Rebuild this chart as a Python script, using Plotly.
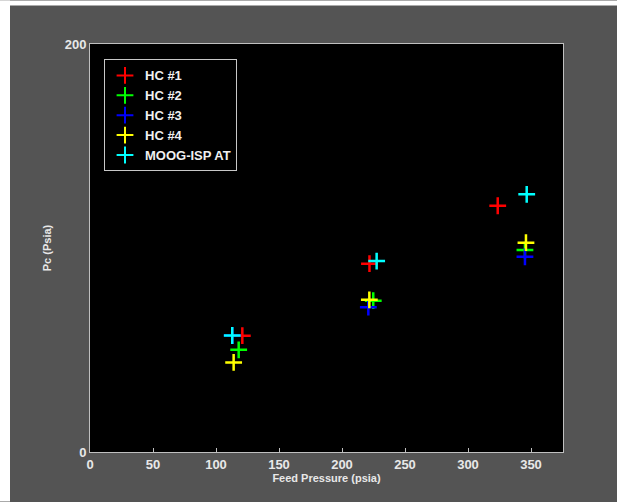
import plotly.graph_objects as go

# Data (Feed Pressure psia, Pc psia)
hc1_x = [120.9, 221.8, 323.6]
hc1_y = [57.0, 92.3, 120.7]
hc2_x = [118.0, 224.8, 345.2]
hc2_y = [50.1, 74.2, 99.0]
hc3_x = [112.9, 220.9, 345.2]
hc3_y = [57.1, 71.0, 95.7]
hc4_x = [114.0, 221.7, 346.0]
hc4_y = [43.9, 74.6, 102.6]
moog_x = [112.9, 227.5, 346.6]
moog_y = [57.1, 93.6, 126.3]

series = [
    ("HC #1", hc1_x, hc1_y, "#ff0000"),
    ("HC #2", hc2_x, hc2_y, "#00ff00"),
    ("HC #3", hc3_x, hc3_y, "#0000ff"),
    ("HC #4", hc4_x, hc4_y, "#ffff00"),
    ("MOOG-ISP AT", moog_x, moog_y, "#00ffff"),
]

x_ticks = [0, 50, 100, 150, 200, 250, 300, 350]
y_ticks = [0, 200]

fig = go.Figure()
for name, xs, ys, col in series:
    fig.add_trace(go.Scatter(
        x=xs, y=ys, mode="markers", name=name,
        marker=dict(symbol="cross-thin", size=12, line=dict(color=col, width=2.5), color=col),
    ))

W, H = 617, 502
L, R, T, B = 90, 54, 43.5, 49.5
pw, ph = W - L - R, H - T - B

def px(xp):
    return (xp - L) / pw

def py(yp):
    return (H - B - yp) / ph

fig.update_layout(
    width=W, height=H,
    margin=dict(l=L, r=R, t=T, b=B, pad=0),
    paper_bgcolor="#545454",
    plot_bgcolor="#000000",
    font=dict(family="Liberation Sans, Arial", color="#e8e8e8", size=12),
    showlegend=True,
    legend=dict(
        x=px(104), y=py(59), xanchor="left", yanchor="top",
        bgcolor="#000000", bordercolor="#c8c8c8", borderwidth=1,
        font=dict(size=13, color="#f0f0f0", weight="bold"),
        itemsizing="constant", tracegroupgap=0,
    ),
    shapes=[
        dict(type="rect", xref="paper", yref="paper", x0=px(0), x1=px(W), y0=py(0), y1=py(5),
             fillcolor="#ffffff", line=dict(width=0), layer="below"),
        dict(type="rect", xref="paper", yref="paper", x0=px(0), x1=px(10), y0=py(0), y1=py(H),
             fillcolor="#ffffff", line=dict(width=0), layer="below"),
    ],
)

fig.update_xaxes(
    range=[0, 375.4], tickvals=x_ticks, ticktext=[str(v) for v in x_ticks],
    showgrid=False, zeroline=False, showline=True, linecolor="#c0c0c0", linewidth=1, mirror=True,
    ticks="inside", ticklen=4, tickcolor="#c0c0c0",
    tickfont=dict(size=13, color="#e8e8e8", weight="bold"),
    title=dict(text="Feed Pressure (psia)", font=dict(size=11, color="#e8e8e8", weight="bold"), standoff=3),
)
fig.update_yaxes(
    range=[0, 200], tickvals=y_ticks, ticktext=[str(v) for v in y_ticks],
    showgrid=False, zeroline=False, showline=True, linecolor="#c0c0c0", linewidth=1, mirror=True,
    ticks="inside", ticklen=4, tickcolor="#c0c0c0",
    tickfont=dict(size=13, color="#e8e8e8", weight="bold"),
    title=dict(text="Pc (Psia)", font=dict(size=11, color="#e8e8e8", weight="bold"), standoff=10),
)

fig.write_html("out.html")
